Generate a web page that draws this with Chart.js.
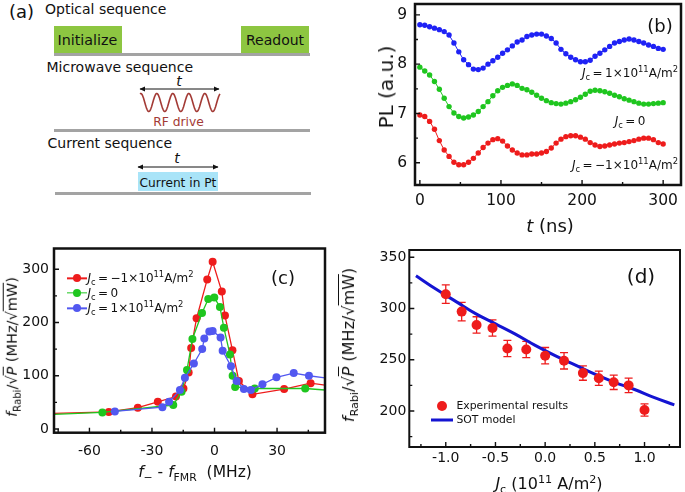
<!DOCTYPE html>
<html>
<head>
<meta charset="utf-8">
<script src="https://cdn.jsdelivr.net/npm/chart.js@4.4.1/dist/chart.umd.min.js"></script>
<style>
  body { margin: 0; background: #fff; }
  #fig { position: relative; width: 685px; height: 492px; overflow: hidden;
         font-family: "DejaVu Sans", Verdana, sans-serif; color: #111; }
  #fig canvas, #fig svg { position: absolute; }
  .lbl { position: absolute; white-space: nowrap; line-height: 1; }
  .rot { transform: translate(-50%, -50%) rotate(-90deg); }
  .ctr { transform: translate(-50%, -50%); }
  .lft { transform: translate(0, -50%); }
  .rgt { transform: translate(-100%, -50%); }
  sub, sup { font-size: 0.7em; line-height: 0; }
  .ov { text-decoration: overline; }
  .dot { position: absolute; border-radius: 50%; transform: translate(-50%, -50%); }
  .seg { position: absolute; transform: translate(0, -50%); }
</style>
</head>
<body>
<div id="fig">
  <svg width="340" height="245" style="left:0;top:0" font-family="DejaVu Sans, Verdana, sans-serif" fill="#111">
    <defs>
      <marker id="ah" markerWidth="6" markerHeight="6" refX="5" refY="3" orient="auto-start-reverse">
        <path d="M0,0.5 L5.5,3 L0,5.5 z" fill="#111"/>
      </marker>
    </defs>
    <text x="9" y="18" font-size="18">(a)</text>
    <text x="45" y="14" font-size="14">Optical sequence</text>
    <rect x="54" y="26" width="68" height="28" fill="#8dc641"/>
    <text x="57.5" y="45" font-size="14.3">Initialize</text>
    <rect x="241" y="26" width="68" height="28" fill="#8dc641"/>
    <text x="246" y="45" font-size="14">Readout</text>
    <line x1="54" y1="54.5" x2="310" y2="54.5" stroke="#a3a3a3" stroke-width="3"/>

    <text x="46.5" y="72" font-size="14">Microwave sequence</text>
    <text x="179" y="86" font-size="14" font-style="italic" text-anchor="middle">t</text>
    <line x1="140" y1="89" x2="219" y2="89" stroke="#111" stroke-width="1" marker-start="url(#ah)" marker-end="url(#ah)"/>
    <path id="rf" fill="none" stroke="#a33a35" stroke-width="1.6"/>
    <text x="178.5" y="126" font-size="12.3" fill="#a33a35" text-anchor="middle">RF drive</text>
    <line x1="54" y1="130.5" x2="310" y2="130.5" stroke="#a3a3a3" stroke-width="3"/>

    <text x="47.5" y="148" font-size="14">Current sequence</text>
    <text x="177" y="163" font-size="14" font-style="italic" text-anchor="middle">t</text>
    <line x1="138" y1="167" x2="218" y2="167" stroke="#111" stroke-width="1" marker-start="url(#ah)" marker-end="url(#ah)"/>
    <rect x="138" y="172" width="80" height="19" fill="#a9e4f8"/>
    <text x="178" y="186.5" font-size="12.2" text-anchor="middle">Current in Pt</text>
    <line x1="55" y1="193.5" x2="311" y2="193.5" stroke="#a3a3a3" stroke-width="3"/>
  </svg>

  <canvas id="chartB" width="345" height="245" style="left:340px;top:0"></canvas>
  <canvas id="chartC" width="340" height="252" style="left:0;top:240px"></canvas>
  <canvas id="chartD" width="345" height="247" style="left:340px;top:245px"></canvas>

  <!-- panel (b) text -->
  <div class="lbl rot" style="left:386px;top:87px;font-size:20px">PL (a.u.)</div>
  <div class="lbl ctr" style="left:550px;top:226px;font-size:18px"><i>t</i> (ns)</div>
  <div class="lbl ctr" style="left:660px;top:26px;font-size:18px">(b)</div>
  <div class="lbl rgt" style="left:678px;top:73px;font-size:12px"><i>J</i><sub>c</sub>&thinsp;=&thinsp;1×10<sup>11</sup>A/m<sup>2</sup></div>
  <div class="lbl ctr" style="left:630px;top:121px;font-size:12px"><i>J</i><sub>c</sub>&thinsp;=&thinsp;0</div>
  <div class="lbl rgt" style="left:678px;top:165px;font-size:12px"><i>J</i><sub>c</sub>&thinsp;=&thinsp;−1×10<sup>11</sup>A/m<sup>2</sup></div>

  <!-- panel (c) text -->
  <div class="lbl rot" style="left:12px;top:347px;font-size:14.5px"><i>f</i><sub>Rabi</sub>/√<span class="ov"><i>P</i></span> (MHz/√<span class="ov">mW</span>)</div>
  <div class="lbl ctr" style="left:195px;top:473px;font-size:15.5px"><i>f</i><sub>−</sub> - <i>f</i><sub>FMR</sub>&nbsp; (MHz)</div>
  <div class="lbl ctr" style="left:283px;top:278px;font-size:18px">(c)</div>
  <div class="seg" style="left:66.5px;top:278.3px;width:20px;height:1.3px;background:#ee1c1c"></div>
  <div class="dot" style="left:76.7px;top:278.3px;width:8px;height:8px;background:#ee1c1c"></div>
  <div class="lbl lft" style="left:87.5px;top:278px;font-size:12px"><i>J</i><sub>c</sub>&thinsp;=&thinsp;−1×10<sup>11</sup>A/m<sup>2</sup></div>
  <div class="seg" style="left:66.5px;top:292.7px;width:20px;height:1.3px;background:#1fc61f"></div>
  <div class="dot" style="left:76.7px;top:292.7px;width:8px;height:8px;background:#1fc61f"></div>
  <div class="lbl lft" style="left:87.5px;top:292.5px;font-size:12px"><i>J</i><sub>c</sub>&thinsp;=&thinsp;0</div>
  <div class="seg" style="left:66.5px;top:308.3px;width:20px;height:1.3px;background:#5258f0"></div>
  <div class="dot" style="left:76.7px;top:308.3px;width:8px;height:8px;background:#5258f0"></div>
  <div class="lbl lft" style="left:87.5px;top:308px;font-size:12px"><i>J</i><sub>c</sub>&thinsp;=&thinsp;1×10<sup>11</sup>A/m<sup>2</sup></div>

  <!-- panel (d) text -->
  <div class="lbl rot" style="left:349px;top:345px;font-size:16px"><i>f</i><sub>Rabi</sub>/√<span class="ov"><i>P</i></span> (MHz/√<span class="ov">mW</span>)</div>
  <div class="lbl ctr" style="left:549px;top:484px;font-size:16px"><i>J</i><sub>c</sub> (10<sup>11</sup> A/m<sup>2</sup>)</div>
  <div class="lbl ctr" style="left:641px;top:276px;font-size:20px">(d)</div>
  <div class="dot" style="left:442.3px;top:406px;width:10px;height:10px;background:#ee1c1c"></div>
  <div class="lbl lft" style="left:456.5px;top:406px;font-size:10.8px">Experimental results</div>
  <div class="seg" style="left:430.5px;top:420px;width:22px;height:3px;background:#1414d2"></div>
  <div class="lbl lft" style="left:456.5px;top:420px;font-size:10.8px">SOT model</div>
</div>

<script>
// ---- panel (b): PL vs t ----
const tNs = [0, 6, 12, 18, 24, 30, 36, 42, 48, 54, 60, 66, 72, 78, 84, 90, 96, 102,
  108, 114, 120, 126, 132, 138, 144, 150, 156, 162, 168, 174, 180, 186, 192, 198, 204,
  210, 216, 222, 228, 234, 240, 246, 252, 258, 264, 270, 276, 282, 288, 294, 300];
const plPos = [8.80, 8.79, 8.76, 8.73, 8.70, 8.66, 8.59, 8.43, 8.25, 8.09, 7.99, 7.90, 7.89, 7.92, 8.00, 8.07, 8.14, 8.22,
  8.29, 8.37, 8.45, 8.49, 8.56, 8.59, 8.61, 8.61, 8.57, 8.52, 8.43, 8.30, 8.21, 8.14, 8.09, 8.05, 8.05,
  8.08, 8.16, 8.22, 8.29, 8.36, 8.43, 8.46, 8.49, 8.51, 8.49, 8.46, 8.43, 8.39, 8.36, 8.32, 8.30];
const plZero = [7.94, 7.86, 7.78, 7.65, 7.49, 7.31, 7.14, 7.01, 6.94, 6.91, 6.93, 6.97, 7.04, 7.14, 7.24, 7.36, 7.46, 7.53,
  7.57, 7.60, 7.57, 7.51, 7.48, 7.43, 7.37, 7.31, 7.26, 7.22, 7.20, 7.19, 7.21, 7.24, 7.28, 7.33, 7.39,
  7.45, 7.47, 7.46, 7.44, 7.41, 7.37, 7.34, 7.30, 7.27, 7.24, 7.21, 7.19, 7.19, 7.20, 7.21, 7.22];
const plNeg = [6.97, 6.94, 6.84, 6.68, 6.45, 6.26, 6.13, 6.01, 5.96, 5.96, 6.01, 6.09, 6.20, 6.31, 6.40, 6.47, 6.49, 6.44,
  6.34, 6.26, 6.20, 6.16, 6.16, 6.18, 6.18, 6.20, 6.23, 6.30, 6.40, 6.48, 6.53, 6.55, 6.55, 6.52, 6.48,
  6.41, 6.36, 6.33, 6.34, 6.36, 6.38, 6.40, 6.41, 6.43, 6.45, 6.48, 6.50, 6.50, 6.47, 6.41, 6.38];
const bTicksX = [0, 100, 200, 300];
const bTicksY = [6, 7, 8, 9];

// ---- panel (c): f_Rabi vs detuning ----
const detNeg = [-80, -50.7, -36.8, -27.2, -18.5, -14.9, -12.4, -11.2, -8.6, -3.5, -0.9, 3.5, 5.0, 8.6, 11.7, 18.2, 33.4, 46.1, 57];
const rabiNeg = [29, 32, 40, 51, 61, 76, 106, 152, 208, 281, 314, 258, 213, 148, 90, 65, 75, 86, 80];
const detZero = [-80, -53.8, -19.8, -15.8, -13.2, -10.6, -6.0, -3.0, -0.1, 2.6, 4.5, 7.4, 8.7, 9.9, 19.3, 43.5, 57];
const rabiZero = [27, 31, 45, 70, 111, 169, 218, 244, 247, 229, 190, 140, 100, 79, 76, 76, 72];
const detPos = [-47.8, -25.0, -21.8, -16.6, -14.2, -9.9, -5.9, -4.9, -2.5, -0.9, 2.9, 3.9, 7.9, 10.6, 14.1, 17.4, 23.0, 29.7, 38.0, 45.3, 57];
const rabiPos = [33, 41, 51, 73, 96, 123, 150, 170, 183, 184, 172, 147, 118, 90, 75, 73, 84, 97, 105, 100, 94];
const cTicksX = [-60, -30, 0, 30];
const cTicksY = [0, 100, 200, 300];

// ---- panel (d): f_Rabi vs J_c ----
const jc = [-1.0, -0.84, -0.69, -0.53, -0.38, -0.19, 0.0, 0.19, 0.38, 0.54, 0.69, 0.84, 1.0];
const rabiJc = [314, 297, 284, 281, 261, 260, 254, 249, 237, 232, 228, 225, 201];
const rabiErr = [9, 9, 8, 8, 8, 8, 8, 8, 7, 7, 7, 7, 6];
const sotJc = [-1.3, -1.1, -0.9, -0.7, -0.5, -0.3, -0.1, 0.1, 0.3, 0.5, 0.7, 0.9, 1.1, 1.3];
const sotRabi = [332, 319, 307, 295, 285, 275, 264, 254, 245, 236, 228, 221, 213, 206];
const dTicksX = [-1.0, -0.5, 0.0, 0.5, 1.0];
const dTicksY = [200, 250, 300, 350];

const FONT = '"DejaVu Sans", Verdana, sans-serif';
const RED = '#ee1c1c', GREEN = '#1fc61f';

// RF drive squiggle in the schematic
(function () {
  let d = '';
  for (let i = 0; i <= 160; i++) {
    const x = 140 + i * 0.5;
    const y = 102.5 + 9 * Math.cos((x - 140) / 16 * 2 * Math.PI + Math.PI * 0.9);
    d += (i ? 'L' : 'M') + x.toFixed(1) + ',' + y.toFixed(1);
  }
  document.getElementById('rf').setAttribute('d', d);
})();

function pts(xs, ys) {
  return xs.map((x, i) => ({ x, y: ys[i] }));
}

function midpoints(arr) {
  const out = [];
  for (let i = 0; i < arr.length - 1; i++) out.push((arr[i] + arr[i + 1]) / 2);
  return out;
}

// box around the plot + inward ticks (Origin style)
const frameTicks = {
  id: 'frameTicks',
  afterDraw(chart, args, o) {
    const { ctx, chartArea: a } = chart;
    const xs = chart.scales.x, ys = chart.scales.y;
    ctx.save();
    ctx.strokeStyle = '#111';
    ctx.lineWidth = o.width;
    ctx.strokeRect(a.left, a.top, a.right - a.left, a.bottom - a.top);
    ctx.lineWidth = 1.4;
    ctx.beginPath();
    const tick = (list, len) => {
      list.forEach(v => {
        const p = xs.getPixelForValue(v);
        if (p > a.left && p < a.right) { ctx.moveTo(p, a.bottom); ctx.lineTo(p, a.bottom - len); }
      });
    };
    const tickY = (list, len) => {
      list.forEach(v => {
        const p = ys.getPixelForValue(v);
        if (p > a.top && p < a.bottom) { ctx.moveTo(a.left, p); ctx.lineTo(a.left + len, p); }
      });
    };
    tick(o.xMajor, 5); tick(o.xMinor, 3);
    tickY(o.yMajor, 5); tickY(o.yMinor, 3);
    ctx.stroke();
    ctx.restore();
  }
};

const errorBars = {
  id: 'errorBars',
  beforeDatasetsDraw(chart, args, o) {
    const { ctx } = chart;
    const xs = chart.scales.x, ys = chart.scales.y;
    ctx.save();
    ctx.strokeStyle = o.color;
    ctx.lineWidth = 1.3;
    o.x.forEach((v, i) => {
      const px = xs.getPixelForValue(v);
      const top = ys.getPixelForValue(o.y[i] + o.err[i]);
      const bot = ys.getPixelForValue(o.y[i] - o.err[i]);
      ctx.beginPath();
      ctx.moveTo(px, top); ctx.lineTo(px, bot);
      ctx.moveTo(px - 4, top); ctx.lineTo(px + 4, top);
      ctx.moveTo(px - 4, bot); ctx.lineTo(px + 4, bot);
      ctx.stroke();
    });
    ctx.restore();
  }
};

function axis(min, max, ticks, size, pad, fixed, horizontal, fmt) {
  return {
    type: 'linear', min, max,
    grid: { display: false, drawTicks: false },
    border: { display: false },
    afterBuildTicks: s => { s.ticks = ticks.map(v => ({ value: v })); },
    afterFit: s => {
      if (horizontal) s.height = fixed; else s.width = fixed;
      s.paddingTop = s.paddingBottom = s.paddingLeft = s.paddingRight = 0;
    },
    ticks: {
      font: { family: FONT, size }, color: '#111', padding: pad,
      autoSkip: false, maxRotation: 0, callback: fmt || (v => String(v))
    }
  };
}

function baseOptions(pad, xAxis, yAxis, extra) {
  return {
    responsive: false, animation: false, events: [],
    layout: { padding: pad },
    plugins: Object.assign({ legend: { display: false }, tooltip: { enabled: false } }, extra),
    scales: { x: xAxis, y: yAxis }
  };
}

// panel (b)
new Chart(document.getElementById('chartB'), {
  type: 'line',
  data: {
    datasets: [
      { data: pts(tNs, plPos), borderColor: '#1f22f5', backgroundColor: '#1f22f5' },
      { data: pts(tNs, plZero), borderColor: GREEN, backgroundColor: GREEN },
      { data: pts(tNs, plNeg), borderColor: RED, backgroundColor: RED }
    ].map(d => Object.assign(d, { borderWidth: 1, pointRadius: 2.7, pointBorderWidth: 0, tension: 0 }))
  },
  options: baseOptions({ top: 4, right: 1, left: 0, bottom: 0 },
    axis(-6, 322, bTicksX, 15.5, 7, 60, true),
    axis(5.55, 9.22, bTicksY, 15.5, 8, 75, false),
    { frameTicks: { width: 2.5, xMajor: bTicksX, xMinor: midpoints(bTicksX), yMajor: bTicksY, yMinor: midpoints(bTicksY) } }),
  plugins: [frameTicks]
});

// panel (c)
new Chart(document.getElementById('chartC'), {
  type: 'line',
  data: {
    datasets: [
      { data: pts(detPos, rabiPos), borderColor: '#5258f0', backgroundColor: '#5258f0' },
      { data: pts(detZero, rabiZero), borderColor: GREEN, backgroundColor: GREEN },
      { data: pts(detNeg, rabiNeg), borderColor: RED, backgroundColor: RED }
    ].map(d => Object.assign(d, { borderWidth: 1.3, pointRadius: 4, pointBorderWidth: 0, tension: 0 }))
  },
  options: baseOptions({ top: 8.5, right: 15, left: 0, bottom: 0 },
    axis(-77, 53, cTicksX, 14, 10, 59.3, true),
    axis(-7, 339, cTicksY, 14, 5, 54, false),
    { frameTicks: { width: 2.5, xMajor: cTicksX, xMinor: [-75, -45, -15, 15, 45], yMajor: cTicksY, yMinor: midpoints(cTicksY) } }),
  plugins: [frameTicks]
});

// panel (d)
new Chart(document.getElementById('chartD'), {
  type: 'scatter',
  data: {
    datasets: [
      { data: pts(jc, rabiJc), backgroundColor: RED, borderWidth: 0, pointRadius: 5 },
      { data: pts(sotJc, sotRabi), showLine: true, borderColor: '#1414d2', borderWidth: 3, pointRadius: 0, tension: 0.4 }
    ]
  },
  options: baseOptions({ top: 5, right: 3.3, left: 0, bottom: 0 },
    axis(-1.367, 1.357, dTicksX, 14, 3, 45, true, v => v.toFixed(1)),
    axis(164.9, 357.1, dTicksY, 14, 3, 69.3, false),
    {
      frameTicks: { width: 2, xMajor: dTicksX, xMinor: [-1.25, -0.75, -0.25, 0.25, 0.75, 1.25], yMajor: dTicksY, yMinor: [175, 225, 275, 325] },
      errorBars: { color: RED, x: jc, y: rabiJc, err: rabiErr }
    }),
  plugins: [frameTicks, errorBars]
});
</script>
</body>
</html>
